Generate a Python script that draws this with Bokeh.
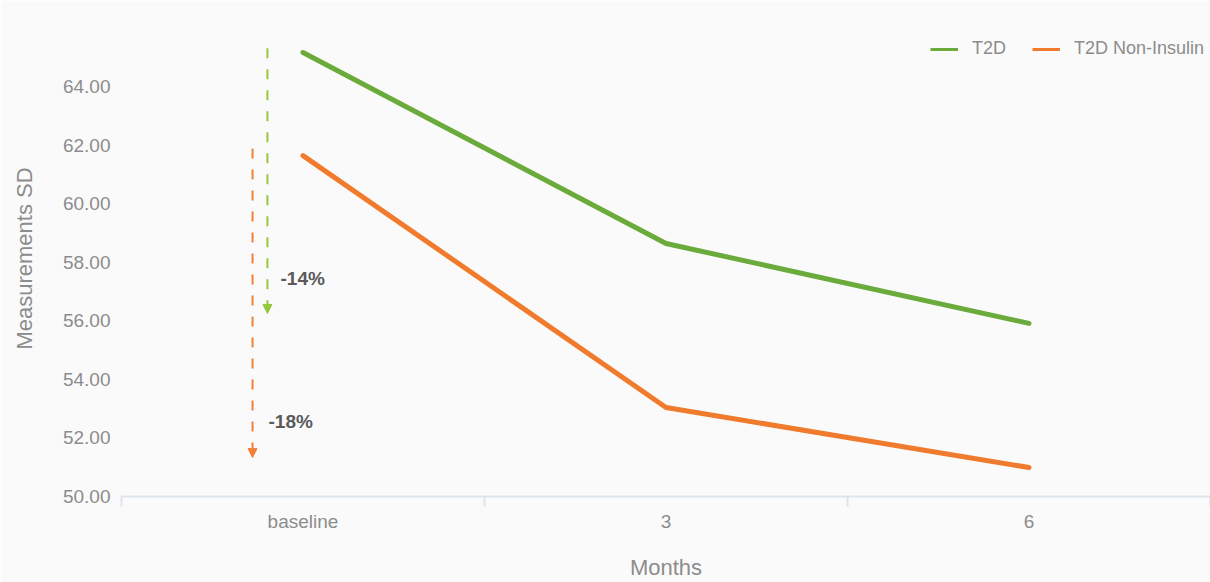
from bokeh.plotting import figure
from bokeh.models import (ColumnDataSource, Range1d, FixedTicker, Legend, LegendItem,
                          Arrow, NormalHead, Label, NumeralTickFormatter)
from bokeh.embed import file_html
from bokeh.resources import INLINE

# ---- data ----
months = ["baseline", "3", "6"]
t2d = [65.16, 58.64, 55.91]
t2d_non_insulin = [61.64, 53.04, 50.99]
series_names = ["T2D", "T2D Non-Insulin"]
change_labels = ["-14%", "-18%"]
y_ticks = [50, 52, 54, 56, 58, 60, 62, 64]

GREEN = "#6aab3c"
ORANGE = "#f07b2c"
GREEN_DASH = "#95c83e"
ORANGE_DASH = "#f0803a"
BG = "#fafafa"
FONT = "Liberation Sans"
TXT = "#8c8c8c"

xs = list(range(len(months)))

p = figure(width=1210, height=582, output_backend="svg", toolbar_location=None,
           x_range=Range1d(-0.5, len(months) - 0.5),
           y_range=Range1d(50, 50 + 476 / 29.2857),
           min_border_left=121, min_border_right=0, min_border_top=20, min_border_bottom=86)
p.background_fill_color = BG
p.border_fill_color = BG
p.outline_line_color = None
p.xgrid.grid_line_color = None
p.ygrid.grid_line_color = None

# x axis
xa = p.xaxis[0]
xa.ticker = FixedTicker(ticks=xs, minor_ticks=[i - 0.5 for i in range(len(months) + 1)])
xa.major_label_overrides = {i: m for i, m in enumerate(months)}
xa.major_tick_line_color = None
xa.major_tick_out = 0
xa.major_tick_in = 0
xa.minor_tick_line_color = "#dde4ec"
xa.minor_tick_line_width = 2
xa.minor_tick_out = 10
xa.minor_tick_in = 0
xa.axis_line_color = "#dde4ec"
xa.axis_line_width = 2
xa.major_label_standoff = 4
xa.major_label_text_font = FONT
xa.major_label_text_font_size = "19px"
xa.major_label_text_color = TXT
xa.axis_label = "Months"
xa.axis_label_text_font = FONT
xa.axis_label_text_font_style = "normal"
xa.axis_label_text_font_size = "22px"
xa.axis_label_text_color = TXT
xa.axis_label_standoff = 20

# y axis
ya = p.yaxis[0]
ya.ticker = FixedTicker(ticks=y_ticks)
ya.formatter = NumeralTickFormatter(format="0.00")
ya.axis_line_color = None
ya.major_tick_line_color = None
ya.minor_tick_line_color = None
ya.major_tick_out = 0
ya.major_label_standoff = 11
ya.major_label_text_font = FONT
ya.major_label_text_font_size = "19px"
ya.major_label_text_color = TXT
ya.axis_label = "Measurements SD"
ya.axis_label_text_font = FONT
ya.axis_label_text_font_style = "normal"
ya.axis_label_text_font_size = "22px"
ya.axis_label_text_color = TXT
ya.axis_label_standoff = 23

src = ColumnDataSource(dict(x=xs, t2d=t2d, ni=t2d_non_insulin))
r1 = p.line("x", "t2d", source=src, line_color=GREEN, line_width=5, line_cap="round", line_join="round")
r2 = p.line("x", "ni", source=src, line_color=ORANGE, line_width=5, line_cap="round", line_join="round")

# legend swatches (thinner lines, nothing drawn in the plot)
nan = float("nan")
empty = ColumnDataSource(dict(x=[nan, nan], y=[nan, nan]))
l1 = p.line("x", "y", source=empty, line_color=GREEN, line_width=3)
l2 = p.line("x", "y", source=empty, line_color=ORANGE, line_width=3)

# change arrows (from baseline value down to 6-month value)
arrow_specs = [
    (t2d, -0.098, GREEN_DASH, change_labels[0], -0.062, 0.15, 1.53),
    (t2d_non_insulin, -0.139, ORANGE_DASH, change_labels[1], -0.095, 0.24, 1.57),
]
for vals, ax, col, lab, lx, top_pad, lab_pad in arrow_specs:
    p.add_layout(Arrow(x_start=ax, y_start=vals[0] + top_pad, x_end=ax, y_end=vals[-1] + 0.34,
                       line_color=col, line_width=2, line_dash="10 11",
                       end=NormalHead(size=9, fill_color=col, line_color=col, line_width=1)))
    p.add_layout(Label(x=lx, y=vals[-1] + lab_pad, text=lab, text_font=FONT,
                       text_font_style="bold", text_font_size="19px", text_color="#5a5a5a",
                       text_baseline="middle", text_align="left"))

legend = Legend(items=[LegendItem(label=series_names[0], renderers=[l1]),
                       LegendItem(label=series_names[1], renderers=[l2])],
                orientation="horizontal", location=(930 - 121, 437),
                padding=0, margin=0, spacing=26, glyph_width=28, glyph_height=20,
                label_standoff=14, label_text_font=FONT, label_text_font_size="18px",
                label_text_color=TXT, background_fill_alpha=0,
                border_line_color=None)
p.add_layout(legend)

open("out.html", "w").write(file_html(p, INLINE))
